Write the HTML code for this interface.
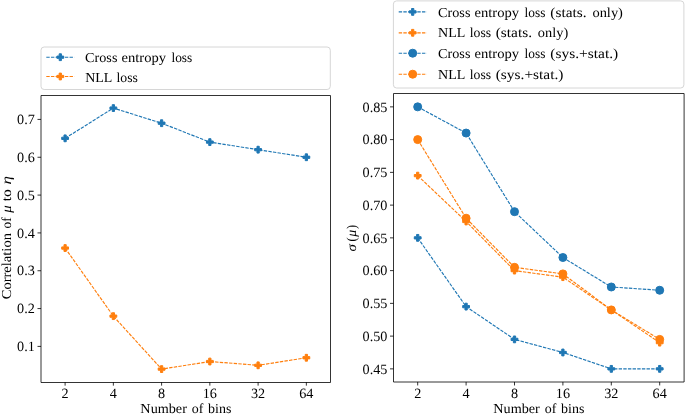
<!DOCTYPE html>
<html><head><meta charset="utf-8"><style>
html,body{margin:0;padding:0;background:#fff;}
svg{display:block;will-change:transform;}
text{font-family:"Liberation Serif",serif;fill:#000;text-rendering:geometricPrecision;}
</style></head><body>
<svg width="685" height="417" viewBox="0 0 685 417">
<rect width="685" height="417" fill="#fff"/>
<line x1="65.10" y1="382.15" x2="65.10" y2="385.65" stroke="#000" stroke-width="0.8"/>
<text x="65.10" y="398.0" text-anchor="middle" font-family="Liberation Serif, serif" font-size="14.2">2</text>
<line x1="113.35" y1="382.15" x2="113.35" y2="385.65" stroke="#000" stroke-width="0.8"/>
<text x="113.35" y="398.0" text-anchor="middle" font-family="Liberation Serif, serif" font-size="14.2">4</text>
<line x1="161.60" y1="382.15" x2="161.60" y2="385.65" stroke="#000" stroke-width="0.8"/>
<text x="161.60" y="398.0" text-anchor="middle" font-family="Liberation Serif, serif" font-size="14.2">8</text>
<line x1="209.85" y1="382.15" x2="209.85" y2="385.65" stroke="#000" stroke-width="0.8"/>
<text x="209.85" y="398.0" text-anchor="middle" font-family="Liberation Serif, serif" font-size="14.2">16</text>
<line x1="258.10" y1="382.15" x2="258.10" y2="385.65" stroke="#000" stroke-width="0.8"/>
<text x="258.10" y="398.0" text-anchor="middle" font-family="Liberation Serif, serif" font-size="14.2">32</text>
<line x1="306.35" y1="382.15" x2="306.35" y2="385.65" stroke="#000" stroke-width="0.8"/>
<text x="306.35" y="398.0" text-anchor="middle" font-family="Liberation Serif, serif" font-size="14.2">64</text>
<line x1="37.50" y1="346.40" x2="41.00" y2="346.40" stroke="#000" stroke-width="0.8"/>
<text x="34.80" y="351.15" text-anchor="end" font-family="Liberation Serif, serif" font-size="14.2">0.1</text>
<line x1="37.50" y1="308.57" x2="41.00" y2="308.57" stroke="#000" stroke-width="0.8"/>
<text x="34.80" y="313.32" text-anchor="end" font-family="Liberation Serif, serif" font-size="14.2">0.2</text>
<line x1="37.50" y1="270.74" x2="41.00" y2="270.74" stroke="#000" stroke-width="0.8"/>
<text x="34.80" y="275.49" text-anchor="end" font-family="Liberation Serif, serif" font-size="14.2">0.3</text>
<line x1="37.50" y1="232.91" x2="41.00" y2="232.91" stroke="#000" stroke-width="0.8"/>
<text x="34.80" y="237.66" text-anchor="end" font-family="Liberation Serif, serif" font-size="14.2">0.4</text>
<line x1="37.50" y1="195.08" x2="41.00" y2="195.08" stroke="#000" stroke-width="0.8"/>
<text x="34.80" y="199.83" text-anchor="end" font-family="Liberation Serif, serif" font-size="14.2">0.5</text>
<line x1="37.50" y1="157.25" x2="41.00" y2="157.25" stroke="#000" stroke-width="0.8"/>
<text x="34.80" y="162.00" text-anchor="end" font-family="Liberation Serif, serif" font-size="14.2">0.6</text>
<line x1="37.50" y1="119.42" x2="41.00" y2="119.42" stroke="#000" stroke-width="0.8"/>
<text x="34.80" y="124.17" text-anchor="end" font-family="Liberation Serif, serif" font-size="14.2">0.7</text>
<path d="M41.00,95.50 L330.50,95.50 L330.50,382.50 L41.00,382.50 Z" fill="none" stroke="#000" stroke-width="0.8" stroke-linejoin="miter"/>
<text x="140.39" y="413.00" font-family="Liberation Serif, serif" font-size="13.7" textLength="46.53" lengthAdjust="spacingAndGlyphs">Number</text>
<text x="191.77" y="413.00" font-family="Liberation Serif, serif" font-size="13.7" textLength="11.63" lengthAdjust="spacingAndGlyphs">of</text>
<text x="208.10" y="413.00" font-family="Liberation Serif, serif" font-size="13.7" textLength="23.31" lengthAdjust="spacingAndGlyphs">bins</text>
<polyline points="65.10,138.33 113.35,108.07 161.60,123.20 209.85,142.12 258.10,149.68 306.35,157.25" fill="none" stroke="#1f77b4" stroke-width="1.15" stroke-dasharray="3.4 1.25" stroke-linejoin="round"/>
<path d="M63.97,134.93 L66.23,134.93 L66.23,137.20 L68.50,137.20 L68.50,139.47 L66.23,139.47 L66.23,141.73 L63.97,141.73 L63.97,139.47 L61.70,139.47 L61.70,137.20 L63.97,137.20 Z" fill="#1f77b4" stroke="#1f77b4" stroke-width="1"/>
<path d="M112.22,104.67 L114.48,104.67 L114.48,106.94 L116.75,106.94 L116.75,109.20 L114.48,109.20 L114.48,111.47 L112.22,111.47 L112.22,109.20 L109.95,109.20 L109.95,106.94 L112.22,106.94 Z" fill="#1f77b4" stroke="#1f77b4" stroke-width="1"/>
<path d="M160.47,119.80 L162.73,119.80 L162.73,122.07 L165.00,122.07 L165.00,124.34 L162.73,124.34 L162.73,126.60 L160.47,126.60 L160.47,124.34 L158.20,124.34 L158.20,122.07 L160.47,122.07 Z" fill="#1f77b4" stroke="#1f77b4" stroke-width="1"/>
<path d="M208.72,138.72 L210.98,138.72 L210.98,140.98 L213.25,140.98 L213.25,143.25 L210.98,143.25 L210.98,145.52 L208.72,145.52 L208.72,143.25 L206.45,143.25 L206.45,140.98 L208.72,140.98 Z" fill="#1f77b4" stroke="#1f77b4" stroke-width="1"/>
<path d="M256.97,146.28 L259.23,146.28 L259.23,148.55 L261.50,148.55 L261.50,150.82 L259.23,150.82 L259.23,153.08 L256.97,153.08 L256.97,150.82 L254.70,150.82 L254.70,148.55 L256.97,148.55 Z" fill="#1f77b4" stroke="#1f77b4" stroke-width="1"/>
<path d="M305.22,153.85 L307.48,153.85 L307.48,156.12 L309.75,156.12 L309.75,158.38 L307.48,158.38 L307.48,160.65 L305.22,160.65 L305.22,158.38 L302.95,158.38 L302.95,156.12 L305.22,156.12 Z" fill="#1f77b4" stroke="#1f77b4" stroke-width="1"/>
<polyline points="65.10,248.04 113.35,316.14 161.60,369.10 209.85,361.53 258.10,365.31 306.35,357.75" fill="none" stroke="#ff7f0e" stroke-width="1.15" stroke-dasharray="3.4 1.25" stroke-linejoin="round"/>
<path d="M63.97,244.64 L66.23,244.64 L66.23,246.91 L68.50,246.91 L68.50,249.18 L66.23,249.18 L66.23,251.44 L63.97,251.44 L63.97,249.18 L61.70,249.18 L61.70,246.91 L63.97,246.91 Z" fill="#ff7f0e" stroke="#ff7f0e" stroke-width="1"/>
<path d="M112.22,312.74 L114.48,312.74 L114.48,315.00 L116.75,315.00 L116.75,317.27 L114.48,317.27 L114.48,319.54 L112.22,319.54 L112.22,317.27 L109.95,317.27 L109.95,315.00 L112.22,315.00 Z" fill="#ff7f0e" stroke="#ff7f0e" stroke-width="1"/>
<path d="M160.47,365.70 L162.73,365.70 L162.73,367.96 L165.00,367.96 L165.00,370.23 L162.73,370.23 L162.73,372.50 L160.47,372.50 L160.47,370.23 L158.20,370.23 L158.20,367.96 L160.47,367.96 Z" fill="#ff7f0e" stroke="#ff7f0e" stroke-width="1"/>
<path d="M208.72,358.13 L210.98,358.13 L210.98,360.40 L213.25,360.40 L213.25,362.67 L210.98,362.67 L210.98,364.93 L208.72,364.93 L208.72,362.67 L206.45,362.67 L206.45,360.40 L208.72,360.40 Z" fill="#ff7f0e" stroke="#ff7f0e" stroke-width="1"/>
<path d="M256.97,361.92 L259.23,361.92 L259.23,364.18 L261.50,364.18 L261.50,366.45 L259.23,366.45 L259.23,368.71 L256.97,368.71 L256.97,366.45 L254.70,366.45 L254.70,364.18 L256.97,364.18 Z" fill="#ff7f0e" stroke="#ff7f0e" stroke-width="1"/>
<path d="M305.22,354.35 L307.48,354.35 L307.48,356.62 L309.75,356.62 L309.75,358.88 L307.48,358.88 L307.48,361.15 L305.22,361.15 L305.22,358.88 L302.95,358.88 L302.95,356.62 L305.22,356.62 Z" fill="#ff7f0e" stroke="#ff7f0e" stroke-width="1"/>
<line x1="417.70" y1="381.96" x2="417.70" y2="385.46" stroke="#000" stroke-width="0.8"/>
<text x="417.70" y="398.0" text-anchor="middle" font-family="Liberation Serif, serif" font-size="14.2">2</text>
<line x1="466.10" y1="381.96" x2="466.10" y2="385.46" stroke="#000" stroke-width="0.8"/>
<text x="466.10" y="398.0" text-anchor="middle" font-family="Liberation Serif, serif" font-size="14.2">4</text>
<line x1="514.50" y1="381.96" x2="514.50" y2="385.46" stroke="#000" stroke-width="0.8"/>
<text x="514.50" y="398.0" text-anchor="middle" font-family="Liberation Serif, serif" font-size="14.2">8</text>
<line x1="562.90" y1="381.96" x2="562.90" y2="385.46" stroke="#000" stroke-width="0.8"/>
<text x="562.90" y="398.0" text-anchor="middle" font-family="Liberation Serif, serif" font-size="14.2">16</text>
<line x1="611.30" y1="381.96" x2="611.30" y2="385.46" stroke="#000" stroke-width="0.8"/>
<text x="611.30" y="398.0" text-anchor="middle" font-family="Liberation Serif, serif" font-size="14.2">32</text>
<line x1="659.70" y1="381.96" x2="659.70" y2="385.46" stroke="#000" stroke-width="0.8"/>
<text x="659.70" y="398.0" text-anchor="middle" font-family="Liberation Serif, serif" font-size="14.2">64</text>
<line x1="390.00" y1="368.86" x2="393.50" y2="368.86" stroke="#000" stroke-width="0.8"/>
<text x="387.40" y="373.61" text-anchor="end" font-family="Liberation Serif, serif" font-size="14.2">0.45</text>
<line x1="390.00" y1="336.11" x2="393.50" y2="336.11" stroke="#000" stroke-width="0.8"/>
<text x="387.40" y="340.86" text-anchor="end" font-family="Liberation Serif, serif" font-size="14.2">0.50</text>
<line x1="390.00" y1="303.36" x2="393.50" y2="303.36" stroke="#000" stroke-width="0.8"/>
<text x="387.40" y="308.11" text-anchor="end" font-family="Liberation Serif, serif" font-size="14.2">0.55</text>
<line x1="390.00" y1="270.61" x2="393.50" y2="270.61" stroke="#000" stroke-width="0.8"/>
<text x="387.40" y="275.36" text-anchor="end" font-family="Liberation Serif, serif" font-size="14.2">0.60</text>
<line x1="390.00" y1="237.86" x2="393.50" y2="237.86" stroke="#000" stroke-width="0.8"/>
<text x="387.40" y="242.61" text-anchor="end" font-family="Liberation Serif, serif" font-size="14.2">0.65</text>
<line x1="390.00" y1="205.11" x2="393.50" y2="205.11" stroke="#000" stroke-width="0.8"/>
<text x="387.40" y="209.86" text-anchor="end" font-family="Liberation Serif, serif" font-size="14.2">0.70</text>
<line x1="390.00" y1="172.36" x2="393.50" y2="172.36" stroke="#000" stroke-width="0.8"/>
<text x="387.40" y="177.11" text-anchor="end" font-family="Liberation Serif, serif" font-size="14.2">0.75</text>
<line x1="390.00" y1="139.61" x2="393.50" y2="139.61" stroke="#000" stroke-width="0.8"/>
<text x="387.40" y="144.36" text-anchor="end" font-family="Liberation Serif, serif" font-size="14.2">0.80</text>
<line x1="390.00" y1="106.86" x2="393.50" y2="106.86" stroke="#000" stroke-width="0.8"/>
<text x="387.40" y="111.61" text-anchor="end" font-family="Liberation Serif, serif" font-size="14.2">0.85</text>
<path d="M393.50,93.50 L684.10,93.50 L684.10,382.00 L393.50,382.00 Z" fill="none" stroke="#000" stroke-width="0.8" stroke-linejoin="miter"/>
<text x="493.34" y="413.00" font-family="Liberation Serif, serif" font-size="13.7" textLength="46.53" lengthAdjust="spacingAndGlyphs">Number</text>
<text x="544.72" y="413.00" font-family="Liberation Serif, serif" font-size="13.7" textLength="11.63" lengthAdjust="spacingAndGlyphs">of</text>
<text x="561.05" y="413.00" font-family="Liberation Serif, serif" font-size="13.7" textLength="23.31" lengthAdjust="spacingAndGlyphs">bins</text>
<polyline points="417.70,237.86 466.10,306.63 514.50,339.38 562.90,352.49 611.30,368.86 659.70,368.86" fill="none" stroke="#1f77b4" stroke-width="1.15" stroke-dasharray="3.4 1.25" stroke-linejoin="round"/>
<path d="M416.57,234.46 L418.83,234.46 L418.83,236.73 L421.10,236.73 L421.10,238.99 L418.83,238.99 L418.83,241.26 L416.57,241.26 L416.57,238.99 L414.30,238.99 L414.30,236.73 L416.57,236.73 Z" fill="#1f77b4" stroke="#1f77b4" stroke-width="1"/>
<path d="M464.97,303.23 L467.23,303.23 L467.23,305.50 L469.50,305.50 L469.50,307.77 L467.23,307.77 L467.23,310.03 L464.97,310.03 L464.97,307.77 L462.70,307.77 L462.70,305.50 L464.97,305.50 Z" fill="#1f77b4" stroke="#1f77b4" stroke-width="1"/>
<path d="M513.37,335.99 L515.63,335.99 L515.63,338.25 L517.90,338.25 L517.90,340.52 L515.63,340.52 L515.63,342.78 L513.37,342.78 L513.37,340.52 L511.10,340.52 L511.10,338.25 L513.37,338.25 Z" fill="#1f77b4" stroke="#1f77b4" stroke-width="1"/>
<path d="M561.77,349.09 L564.03,349.09 L564.03,351.35 L566.30,351.35 L566.30,353.62 L564.03,353.62 L564.03,355.88 L561.77,355.88 L561.77,353.62 L559.50,353.62 L559.50,351.35 L561.77,351.35 Z" fill="#1f77b4" stroke="#1f77b4" stroke-width="1"/>
<path d="M610.17,365.46 L612.43,365.46 L612.43,367.73 L614.70,367.73 L614.70,369.99 L612.43,369.99 L612.43,372.26 L610.17,372.26 L610.17,369.99 L607.90,369.99 L607.90,367.73 L610.17,367.73 Z" fill="#1f77b4" stroke="#1f77b4" stroke-width="1"/>
<path d="M658.57,365.46 L660.83,365.46 L660.83,367.73 L663.10,367.73 L663.10,369.99 L660.83,369.99 L660.83,372.26 L658.57,372.26 L658.57,369.99 L656.30,369.99 L656.30,367.73 L658.57,367.73 Z" fill="#1f77b4" stroke="#1f77b4" stroke-width="1"/>
<polyline points="417.70,175.63 466.10,221.48 514.50,270.61 562.90,277.16 611.30,309.91 659.70,342.66" fill="none" stroke="#ff7f0e" stroke-width="1.15" stroke-dasharray="3.4 1.25" stroke-linejoin="round"/>
<path d="M416.57,172.23 L418.83,172.23 L418.83,174.50 L421.10,174.50 L421.10,176.77 L418.83,176.77 L418.83,179.03 L416.57,179.03 L416.57,176.77 L414.30,176.77 L414.30,174.50 L416.57,174.50 Z" fill="#ff7f0e" stroke="#ff7f0e" stroke-width="1"/>
<path d="M464.97,218.08 L467.23,218.08 L467.23,220.35 L469.50,220.35 L469.50,222.62 L467.23,222.62 L467.23,224.88 L464.97,224.88 L464.97,222.62 L462.70,222.62 L462.70,220.35 L464.97,220.35 Z" fill="#ff7f0e" stroke="#ff7f0e" stroke-width="1"/>
<path d="M513.37,267.21 L515.63,267.21 L515.63,269.48 L517.90,269.48 L517.90,271.74 L515.63,271.74 L515.63,274.01 L513.37,274.01 L513.37,271.74 L511.10,271.74 L511.10,269.48 L513.37,269.48 Z" fill="#ff7f0e" stroke="#ff7f0e" stroke-width="1"/>
<path d="M561.77,273.76 L564.03,273.76 L564.03,276.03 L566.30,276.03 L566.30,278.29 L564.03,278.29 L564.03,280.56 L561.77,280.56 L561.77,278.29 L559.50,278.29 L559.50,276.03 L561.77,276.03 Z" fill="#ff7f0e" stroke="#ff7f0e" stroke-width="1"/>
<path d="M610.17,306.51 L612.43,306.51 L612.43,308.78 L614.70,308.78 L614.70,311.04 L612.43,311.04 L612.43,313.31 L610.17,313.31 L610.17,311.04 L607.90,311.04 L607.90,308.78 L610.17,308.78 Z" fill="#ff7f0e" stroke="#ff7f0e" stroke-width="1"/>
<path d="M658.57,339.26 L660.83,339.26 L660.83,341.53 L663.10,341.53 L663.10,343.79 L660.83,343.79 L660.83,346.06 L658.57,346.06 L658.57,343.79 L656.30,343.79 L656.30,341.53 L658.57,341.53 Z" fill="#ff7f0e" stroke="#ff7f0e" stroke-width="1"/>
<polyline points="417.70,106.86 466.10,133.06 514.50,211.66 562.90,257.51 611.30,286.99 659.70,290.26" fill="none" stroke="#1f77b4" stroke-width="1.15" stroke-dasharray="3.4 1.25" stroke-linejoin="round"/>
<circle cx="417.70" cy="106.86" r="4.00" fill="#1f77b4" stroke="#1f77b4" stroke-width="1"/>
<circle cx="466.10" cy="133.06" r="4.00" fill="#1f77b4" stroke="#1f77b4" stroke-width="1"/>
<circle cx="514.50" cy="211.66" r="4.00" fill="#1f77b4" stroke="#1f77b4" stroke-width="1"/>
<circle cx="562.90" cy="257.51" r="4.00" fill="#1f77b4" stroke="#1f77b4" stroke-width="1"/>
<circle cx="611.30" cy="286.99" r="4.00" fill="#1f77b4" stroke="#1f77b4" stroke-width="1"/>
<circle cx="659.70" cy="290.26" r="4.00" fill="#1f77b4" stroke="#1f77b4" stroke-width="1"/>
<polyline points="417.70,139.61 466.10,218.21 514.50,267.33 562.90,273.88 611.30,309.91 659.70,339.38" fill="none" stroke="#ff7f0e" stroke-width="1.15" stroke-dasharray="3.4 1.25" stroke-linejoin="round"/>
<circle cx="417.70" cy="139.61" r="4.00" fill="#ff7f0e" stroke="#ff7f0e" stroke-width="1"/>
<circle cx="466.10" cy="218.21" r="4.00" fill="#ff7f0e" stroke="#ff7f0e" stroke-width="1"/>
<circle cx="514.50" cy="267.33" r="4.00" fill="#ff7f0e" stroke="#ff7f0e" stroke-width="1"/>
<circle cx="562.90" cy="273.88" r="4.00" fill="#ff7f0e" stroke="#ff7f0e" stroke-width="1"/>
<circle cx="611.30" cy="309.91" r="4.00" fill="#ff7f0e" stroke="#ff7f0e" stroke-width="1"/>
<circle cx="659.70" cy="339.38" r="4.00" fill="#ff7f0e" stroke="#ff7f0e" stroke-width="1"/>
<rect x="41.00" y="47.00" width="289.30" height="42.50" rx="3.2" ry="3.2" fill="#fff" fill-opacity="0.8" stroke="#d6d6d6" stroke-width="1"/>
<line x1="46.30" y1="57.20" x2="74.30" y2="57.20" stroke="#1f77b4" stroke-width="1.15" stroke-dasharray="3.4 1.25"/>
<path d="M59.17,53.80 L61.43,53.80 L61.43,56.07 L63.70,56.07 L63.70,58.33 L61.43,58.33 L61.43,60.60 L59.17,60.60 L59.17,58.33 L56.90,58.33 L56.90,56.07 L59.17,56.07 Z" fill="#1f77b4" stroke="#1f77b4" stroke-width="1"/>
<text x="85.12" y="61.80" font-family="Liberation Serif, serif" font-size="13.7" textLength="32.29" lengthAdjust="spacingAndGlyphs">Cross</text>
<text x="121.53" y="61.80" font-family="Liberation Serif, serif" font-size="13.7" textLength="44.53" lengthAdjust="spacingAndGlyphs">entropy</text>
<text x="171.43" y="61.80" font-family="Liberation Serif, serif" font-size="13.7" textLength="20.85" lengthAdjust="spacingAndGlyphs">loss</text>
<line x1="46.30" y1="76.50" x2="74.30" y2="76.50" stroke="#ff7f0e" stroke-width="1.15" stroke-dasharray="3.4 1.25"/>
<path d="M59.17,73.10 L61.43,73.10 L61.43,75.37 L63.70,75.37 L63.70,77.63 L61.43,77.63 L61.43,79.90 L59.17,79.90 L59.17,77.63 L56.90,77.63 L56.90,75.37 L59.17,75.37 Z" fill="#ff7f0e" stroke="#ff7f0e" stroke-width="1"/>
<text x="85.20" y="81.50" font-family="Liberation Serif, serif" font-size="13.7" textLength="27.14" lengthAdjust="spacingAndGlyphs">NLL</text>
<text x="116.53" y="81.50" font-family="Liberation Serif, serif" font-size="13.7" textLength="21.37" lengthAdjust="spacingAndGlyphs">loss</text>
<rect x="393.40" y="0.90" width="290.50" height="87.10" rx="3.2" ry="3.2" fill="#fff" fill-opacity="0.8" stroke="#d6d6d6" stroke-width="1"/>
<line x1="398.70" y1="11.90" x2="426.70" y2="11.90" stroke="#1f77b4" stroke-width="1.15" stroke-dasharray="3.4 1.25"/>
<path d="M411.57,8.50 L413.83,8.50 L413.83,10.77 L416.10,10.77 L416.10,13.03 L413.83,13.03 L413.83,15.30 L411.57,15.30 L411.57,13.03 L409.30,13.03 L409.30,10.77 L411.57,10.77 Z" fill="#1f77b4" stroke="#1f77b4" stroke-width="1"/>
<text x="438.12" y="16.80" font-family="Liberation Serif, serif" font-size="13.7" textLength="32.29" lengthAdjust="spacingAndGlyphs">Cross</text>
<text x="474.48" y="16.80" font-family="Liberation Serif, serif" font-size="13.7" textLength="44.58" lengthAdjust="spacingAndGlyphs">entropy</text>
<text x="524.53" y="16.80" font-family="Liberation Serif, serif" font-size="13.7" textLength="20.85" lengthAdjust="spacingAndGlyphs">loss</text>
<text x="550.32" y="16.80" font-family="Liberation Serif, serif" font-size="13.7" textLength="36.29" lengthAdjust="spacingAndGlyphs">(stats.</text>
<text x="592.45" y="16.80" font-family="Liberation Serif, serif" font-size="13.7" textLength="30.48" lengthAdjust="spacingAndGlyphs">only)</text>
<line x1="398.70" y1="32.80" x2="426.70" y2="32.80" stroke="#ff7f0e" stroke-width="1.15" stroke-dasharray="3.4 1.25"/>
<path d="M411.57,29.40 L413.83,29.40 L413.83,31.67 L416.10,31.67 L416.10,33.93 L413.83,33.93 L413.83,36.20 L411.57,36.20 L411.57,33.93 L409.30,33.93 L409.30,31.67 L411.57,31.67 Z" fill="#ff7f0e" stroke="#ff7f0e" stroke-width="1"/>
<text x="438.10" y="37.10" font-family="Liberation Serif, serif" font-size="13.7" textLength="27.25" lengthAdjust="spacingAndGlyphs">NLL</text>
<text x="469.73" y="37.10" font-family="Liberation Serif, serif" font-size="13.7" textLength="21.37" lengthAdjust="spacingAndGlyphs">loss</text>
<text x="495.72" y="37.10" font-family="Liberation Serif, serif" font-size="13.7" textLength="36.29" lengthAdjust="spacingAndGlyphs">(stats.</text>
<text x="537.85" y="37.10" font-family="Liberation Serif, serif" font-size="13.7" textLength="30.38" lengthAdjust="spacingAndGlyphs">only)</text>
<line x1="398.70" y1="53.20" x2="426.70" y2="53.20" stroke="#1f77b4" stroke-width="1.15" stroke-dasharray="3.4 1.25"/>
<circle cx="412.70" cy="53.20" r="4.00" fill="#1f77b4" stroke="#1f77b4" stroke-width="1"/>
<text x="438.12" y="58.40" font-family="Liberation Serif, serif" font-size="13.7" textLength="32.29" lengthAdjust="spacingAndGlyphs">Cross</text>
<text x="474.48" y="58.40" font-family="Liberation Serif, serif" font-size="13.7" textLength="44.58" lengthAdjust="spacingAndGlyphs">entropy</text>
<text x="524.53" y="58.40" font-family="Liberation Serif, serif" font-size="13.7" textLength="20.85" lengthAdjust="spacingAndGlyphs">loss</text>
<text x="550.32" y="58.40" font-family="Liberation Serif, serif" font-size="13.7" textLength="67.96" lengthAdjust="spacingAndGlyphs">(sys.+stat.)</text>
<line x1="398.70" y1="74.20" x2="426.70" y2="74.20" stroke="#ff7f0e" stroke-width="1.15" stroke-dasharray="3.4 1.25"/>
<circle cx="412.70" cy="74.20" r="4.00" fill="#ff7f0e" stroke="#ff7f0e" stroke-width="1"/>
<text x="438.10" y="79.10" font-family="Liberation Serif, serif" font-size="13.7" textLength="27.25" lengthAdjust="spacingAndGlyphs">NLL</text>
<text x="469.73" y="79.10" font-family="Liberation Serif, serif" font-size="13.7" textLength="21.37" lengthAdjust="spacingAndGlyphs">loss</text>
<text x="495.72" y="79.10" font-family="Liberation Serif, serif" font-size="13.7" textLength="67.75" lengthAdjust="spacingAndGlyphs">(sys.+stat.)</text>
<text transform="translate(11.20,0) rotate(-90)" x="-299.30" y="0" font-family="Liberation Serif, serif" font-size="13.7" textLength="66.22" lengthAdjust="spacingAndGlyphs">Correlation</text>
<text transform="translate(11.20,0) rotate(-90)" x="-228.51" y="0" font-family="Liberation Serif, serif" font-size="13.7" textLength="11.21" lengthAdjust="spacingAndGlyphs">of</text>
<text transform="translate(11.20,0) rotate(-90)" x="-212.69" y="0" font-family="Liberation Serif, serif" font-size="13.7" font-style="italic" textLength="7.37" lengthAdjust="spacingAndGlyphs">μ</text>
<text transform="translate(11.20,0) rotate(-90)" x="-201.25" y="0" font-family="Liberation Serif, serif" font-size="13.7" textLength="12.15" lengthAdjust="spacingAndGlyphs">to</text>
<text transform="translate(11.20,0) rotate(-90)" x="-184.41" y="0" font-family="Liberation Serif, serif" font-size="13.7" font-style="italic" textLength="8.53" lengthAdjust="spacingAndGlyphs">η</text>
<text transform="translate(356.00,0) rotate(-90)" x="-251.45" y="0" font-family="Liberation Serif, serif" font-size="13.7" font-style="italic" textLength="7.37" lengthAdjust="spacingAndGlyphs">σ</text>
<text transform="translate(356.00,0) rotate(-90)" x="-241.45" y="0" font-family="Liberation Serif, serif" font-size="13.7" textLength="4.15" lengthAdjust="spacingAndGlyphs">(</text>
<text transform="translate(356.00,0) rotate(-90)" x="-236.69" y="0" font-family="Liberation Serif, serif" font-size="13.7" font-style="italic" textLength="6.95" lengthAdjust="spacingAndGlyphs">μ</text>
<text transform="translate(356.00,0) rotate(-90)" x="-229.09" y="0" font-family="Liberation Serif, serif" font-size="13.7" textLength="4.02" lengthAdjust="spacingAndGlyphs">)</text>
</svg>
</body></html>
